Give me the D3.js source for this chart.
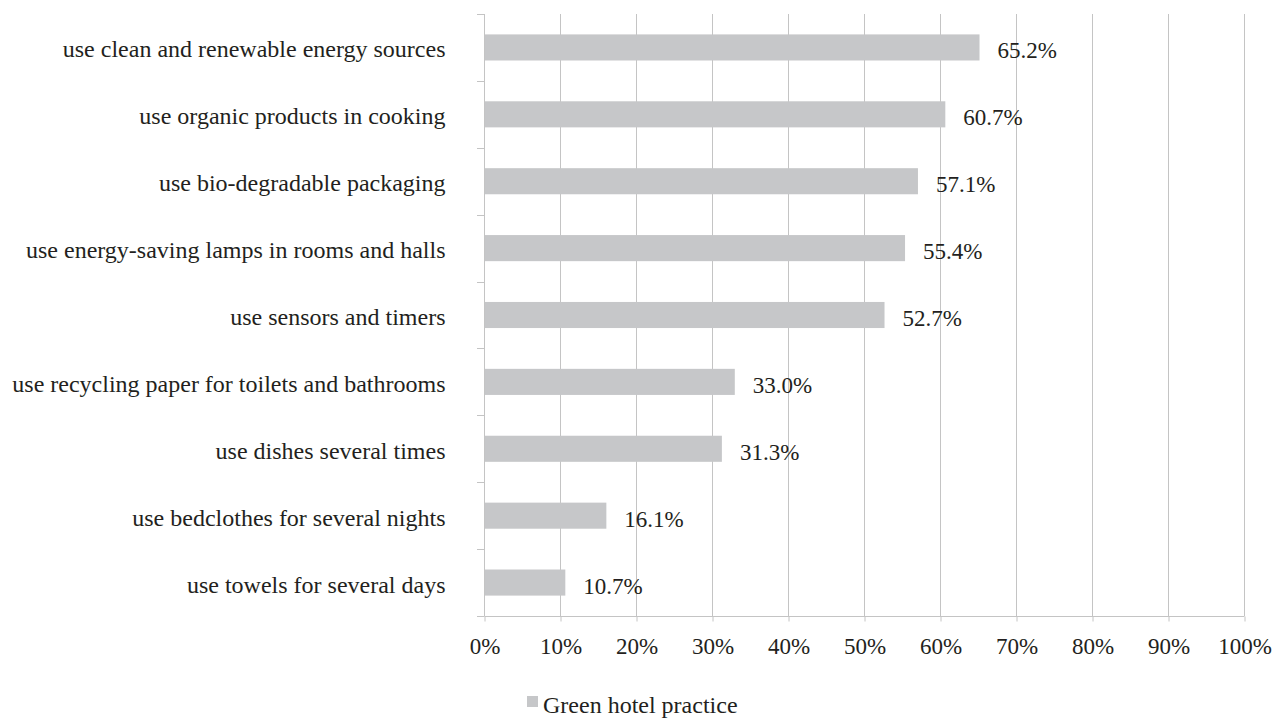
<!DOCTYPE html>
<html><head><meta charset="utf-8">
<script src="https://cdn.jsdelivr.net/npm/d3@7"></script>
<style>
html,body{margin:0;padding:0;background:#fff;}
svg{display:block;}
text{font-family:"Liberation Serif","Times New Roman",serif;fill:#231f20;}
</style></head>
<body><svg id="c" width="1282" height="718"></svg>
<script>
const categories = [
  "use clean and renewable energy sources",
  "use organic products in cooking",
  "use bio-degradable packaging",
  "use energy-saving lamps in rooms and halls",
  "use sensors and timers",
  "use recycling paper for toilets and bathrooms",
  "use dishes several times",
  "use bedclothes for several nights",
  "use towels for several days"
];
const values = [65.2, 60.7, 57.1, 55.4, 52.7, 33.0, 31.3, 16.1, 10.7];
const xTicks = [0,10,20,30,40,50,60,70,80,90,100];
const seriesName = "Green hotel practice";

const svg = d3.select("#c");
const pLeft = 484, pRight = 1244, pTop = 14, pBottom = 616;
const x = d3.scaleLinear().domain([0,100]).range([pLeft,pRight]);
const y = d3.scaleBand().domain(categories).range([pTop,pBottom]).padding(0);
const fsCat = 24, fsNum = 23;
const grid = "#c4c4c4";

// gridlines
svg.append("g").selectAll("line").data(xTicks.slice(1)).join("line")
  .attr("x1",d=>x(d)+0.5).attr("x2",d=>x(d)+0.5)
  .attr("y1",pTop).attr("y2",pBottom)
  .attr("stroke",grid).attr("stroke-width",1);

// bars
const bh = y.bandwidth()*0.39;
svg.append("g").selectAll("rect").data(values).join("rect")
  .attr("x",x(0)+1).attr("y",(d,i)=>y(categories[i])+y.bandwidth()/2-bh/2)
  .attr("width",d=>x(d)-x(0)-1).attr("height",bh)
  .attr("fill","#c6c7c9");

// value labels
svg.append("g").selectAll("text").data(values).join("text")
  .attr("x",d=>x(d)+18).attr("y",(d,i)=>y(categories[i])+y.bandwidth()/2+11)
  .attr("font-size",fsNum)
  .text(d=>d.toFixed(1)+"%");

// left axis
const yAxis = d3.axisLeft(y).tickSize(0).tickPadding(39);
const gy = svg.append("g").attr("transform",`translate(${pLeft+0.5},0)`).call(yAxis);
gy.select(".domain").attr("stroke",grid).attr("d",`M0,${pTop}V${pBottom}`);
gy.selectAll("text").attr("font-size",fsCat).attr("font-family",'"Liberation Serif",serif').attr("fill","#231f20")
  .attr("dy",null).attr("y",10);
// category separator ticks
const sep = categories.map(c=>y(c)).concat([pBottom]);
svg.append("g").selectAll("line").data(sep).join("line")
  .attr("x1",pLeft-7).attr("x2",pLeft+0.5).attr("y1",d=>Math.round(d)+0.5).attr("y2",d=>Math.round(d)+0.5)
  .attr("stroke",grid);

// bottom axis
const xAxis = d3.axisBottom(x).tickValues(xTicks).tickSize(5).tickPadding(16).tickFormat(d=>d+"%");
const gx = svg.append("g").attr("transform",`translate(0.5,${pBottom+0.5})`).call(xAxis);
gx.select(".domain").attr("stroke",grid).attr("d",`M${pLeft},0H${pRight}`);
gx.selectAll(".tick line").attr("stroke",grid);
gx.selectAll("text").attr("font-size",fsNum).attr("font-family",'"Liberation Serif",serif').attr("fill","#231f20");

// legend
const lg = svg.append("g");
lg.append("rect").attr("x",527).attr("y",696).attr("width",11).attr("height",11).attr("fill","#c6c7c9");
lg.append("text").attr("x",543).attr("y",713).attr("font-size",fsCat).text(seriesName);
</script></body></html>
